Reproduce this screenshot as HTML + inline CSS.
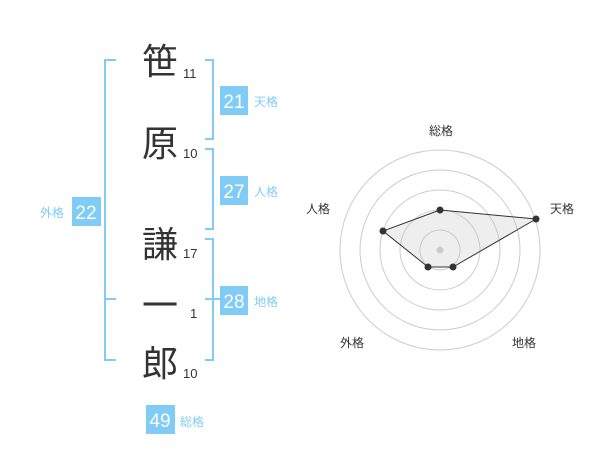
<!DOCTYPE html>
<html><head><meta charset="utf-8"><style>
body{margin:0;width:600px;height:470px;background:#fff;overflow:hidden}
svg{font-family:"Liberation Sans","Noto Sans CJK JP",sans-serif}
</style></head><body>
<svg width="600" height="470" viewBox="0 0 600 470">
<g stroke="#80ccf7" stroke-width="2" fill="none">
<polyline points="116,60 105,60 105,360 116,360"/>
<line x1="105" y1="299" x2="116" y2="299"/>
<polyline points="205,60 213,60 213,139 205,139"/>
<polyline points="205,149 213,149 213,229 205,229"/>
<polyline points="205,239 213,239 213,360 205,360"/>
<line x1="205" y1="299" x2="220" y2="299"/>
</g>
<g font-size="36" fill="#333" text-anchor="middle">
<text x="160" y="74">笹</text>
<text x="160" y="156">原</text>
<text x="160" y="257">謙</text>
<text x="160" y="318">一</text>
<text x="160" y="376">郎</text>
</g>
<g font-size="13" fill="#333">
<text x="183" y="78">11</text>
<text x="183" y="158">10</text>
<text x="183" y="258">17</text>
<text x="190" y="318">1</text>
<text x="183" y="378">10</text>
</g>
<g fill="#80ccf7">
<rect x="72" y="197" width="29" height="29"/>
<rect x="220" y="86" width="28" height="29"/>
<rect x="220" y="176" width="28" height="29"/>
<rect x="220" y="286" width="28" height="29"/>
<rect x="146" y="405" width="29" height="29"/>
</g>
<g fill="#fff" font-size="19" text-anchor="middle">
<text x="86" y="219">22</text>
<text x="234" y="108">21</text>
<text x="234" y="198">27</text>
<text x="234" y="308">28</text>
<text x="160" y="427">49</text>
</g>
<g fill="#80ccf7" font-size="12">
<text x="40" y="217">外格</text>
<text x="254" y="106">天格</text>
<text x="254" y="196">人格</text>
<text x="254" y="306">地格</text>
<text x="180" y="426">総格</text>
</g>
<g fill="none" stroke="#ccc" stroke-width="1">
<circle cx="440" cy="250" r="20"/><circle cx="440" cy="250" r="40"/>
<circle cx="440" cy="250" r="60"/><circle cx="440" cy="250" r="80"/>
<circle cx="440" cy="250" r="100"/>
</g>
<circle cx="440" cy="250" r="3.5" fill="#ccc"/>
<polygon points="440,210 536,219 453,267 428,267 383,231" fill="rgba(200,200,200,0.3)" stroke="#333" stroke-width="1"/>
<g fill="#333">
<circle cx="440" cy="210" r="3.5"/><circle cx="536" cy="219" r="3.5"/>
<circle cx="453" cy="267" r="3.5"/><circle cx="428" cy="267" r="3.5"/>
<circle cx="383" cy="231" r="3.5"/>
</g>
<g fill="#333" font-size="12" text-anchor="middle">
<text x="441" y="135">総格</text>
<text x="562" y="213">天格</text>
<text x="524" y="347">地格</text>
<text x="352" y="347">外格</text>
<text x="318" y="213">人格</text>
</g>
</svg>
</body></html>
